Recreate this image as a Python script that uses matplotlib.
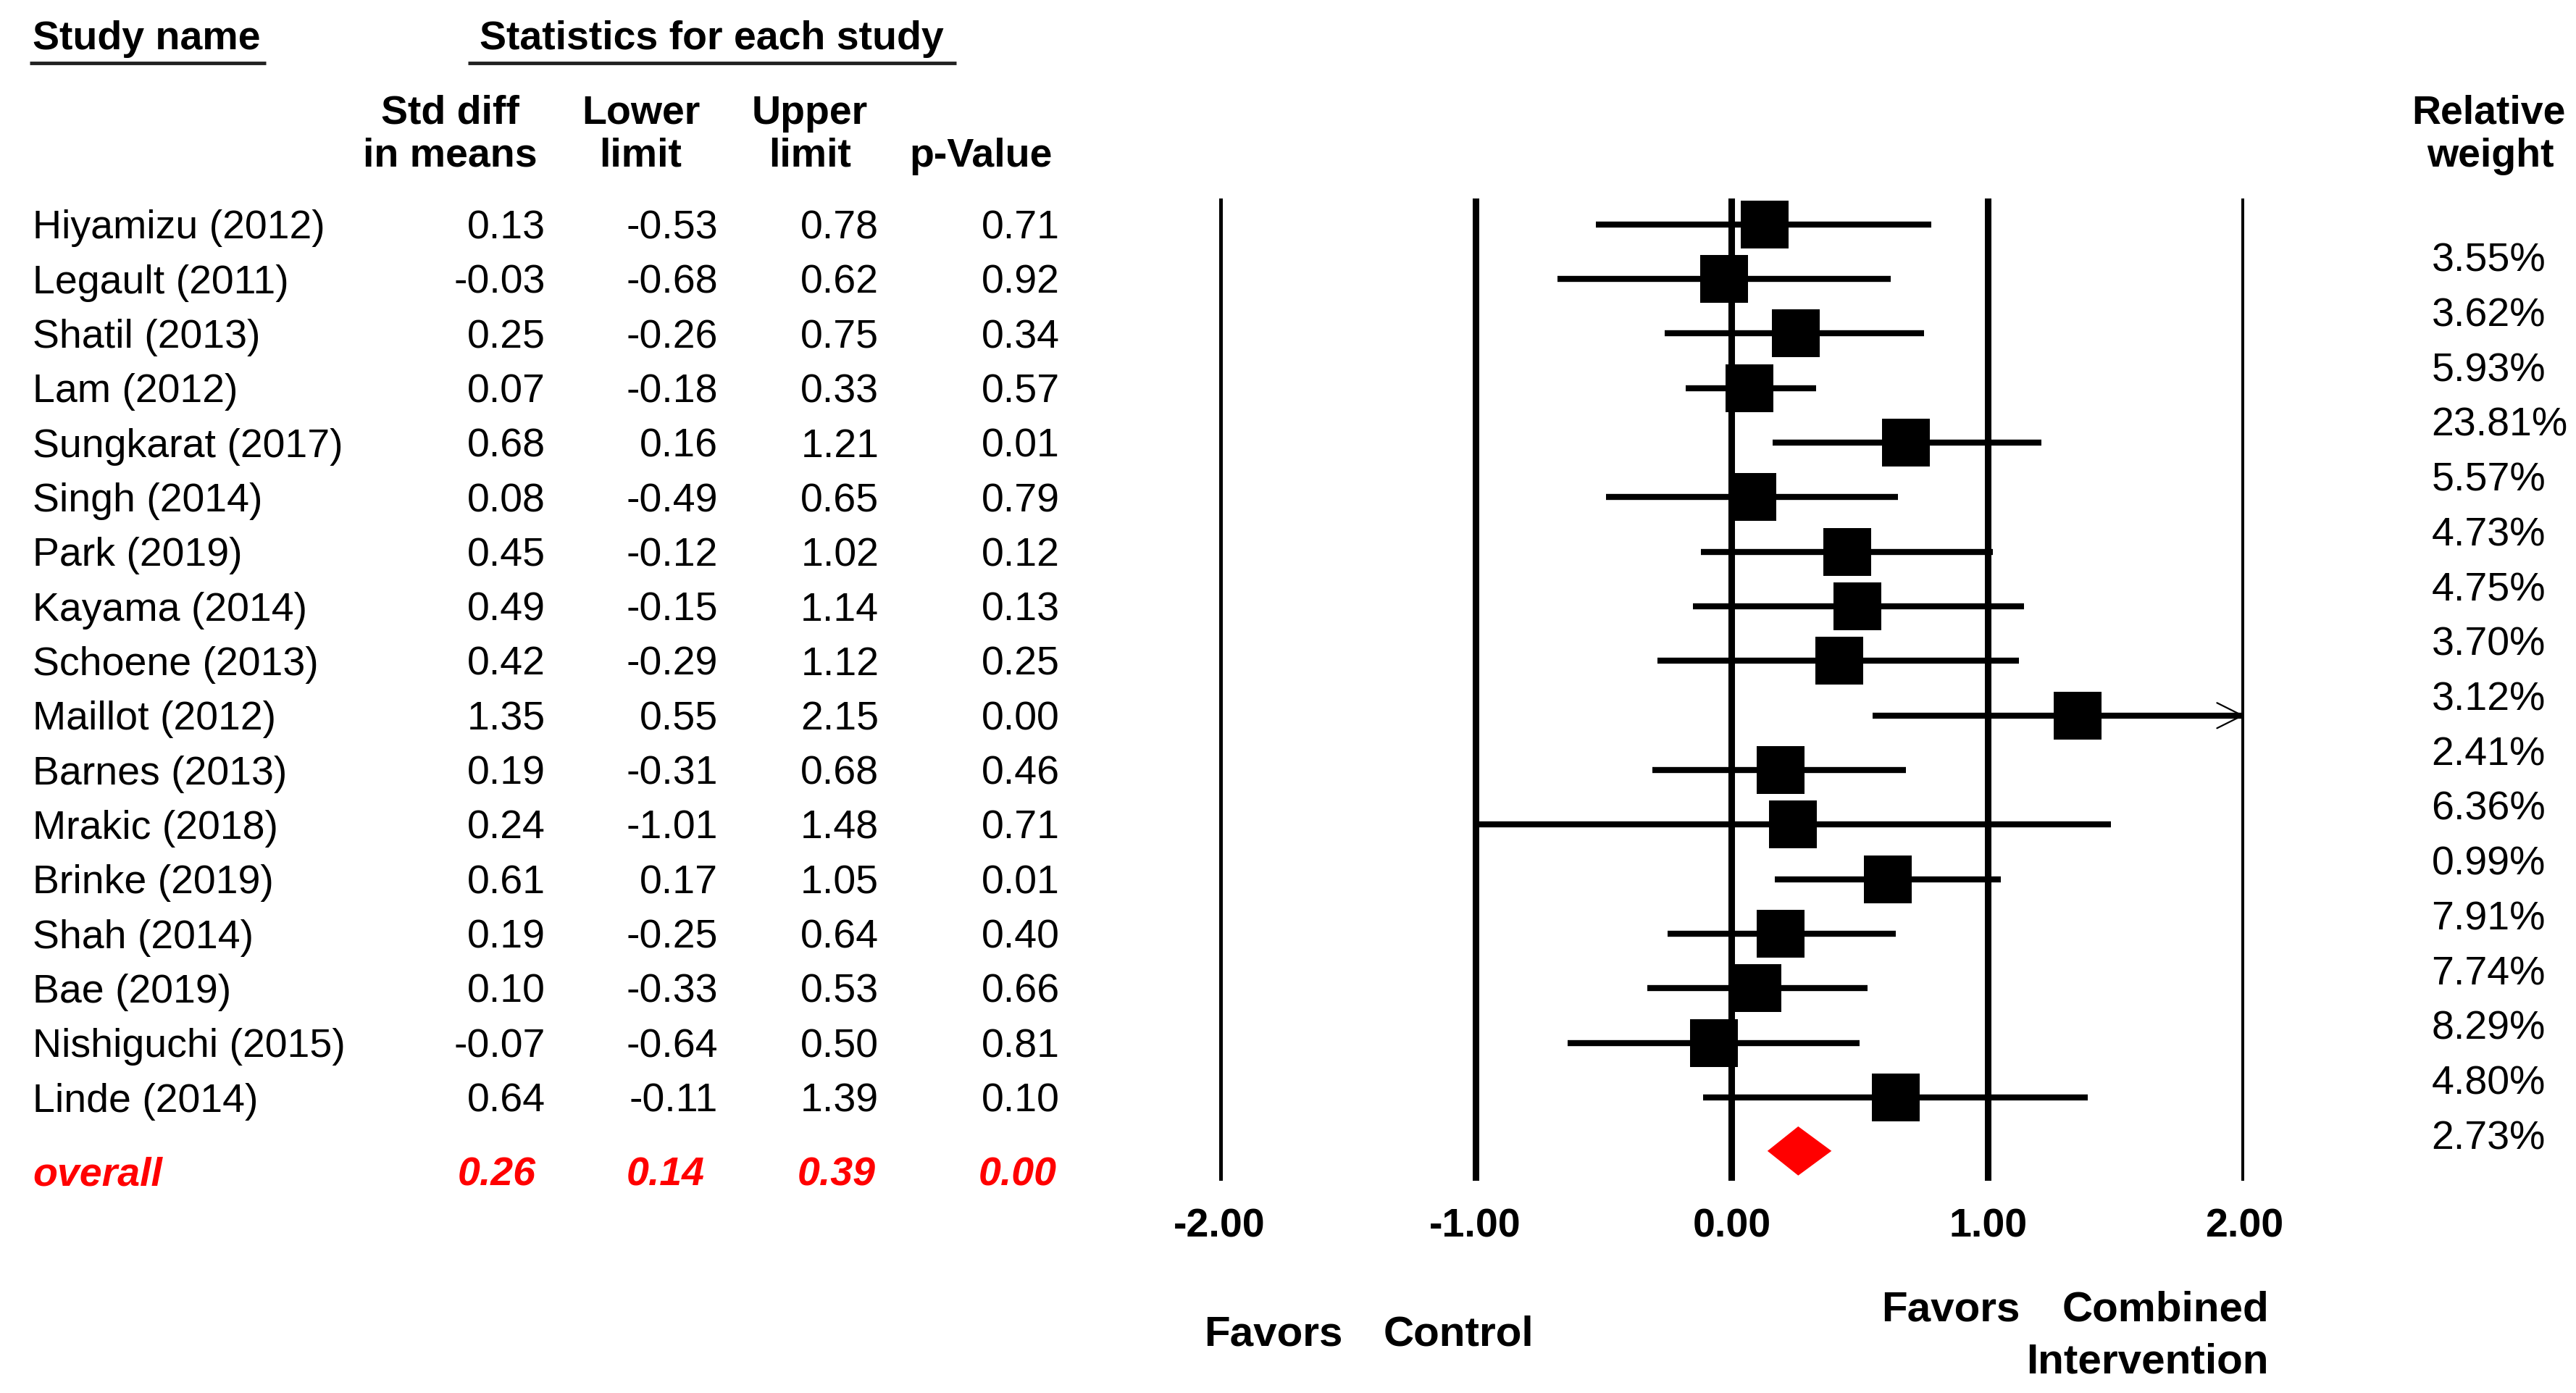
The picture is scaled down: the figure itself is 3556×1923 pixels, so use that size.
import matplotlib
matplotlib.use('Agg')
import matplotlib.pyplot as plt
from matplotlib.patches import Polygon

# ---------------- data ----------------
studies = ["Hiyamizu (2012)", "Legault (2011)", "Shatil (2013)", "Lam (2012)",
           "Sungkarat (2017)", "Singh (2014)", "Park (2019)", "Kayama (2014)",
           "Schoene (2013)", "Maillot (2012)", "Barnes (2013)", "Mrakic (2018)",
           "Brinke (2019)", "Shah (2014)", "Bae (2019)", "Nishiguchi (2015)",
           "Linde (2014)"]
smd = [0.13, -0.03, 0.25, 0.07, 0.68, 0.08, 0.45, 0.49, 0.42, 1.35, 0.19,
       0.24, 0.61, 0.19, 0.10, -0.07, 0.64]
lower = [-0.53, -0.68, -0.26, -0.18, 0.16, -0.49, -0.12, -0.15, -0.29, 0.55,
         -0.31, -1.01, 0.17, -0.25, -0.33, -0.64, -0.11]
upper = [0.78, 0.62, 0.75, 0.33, 1.21, 0.65, 1.02, 1.14, 1.12, 2.15, 0.68,
         1.48, 1.05, 0.64, 0.53, 0.50, 1.39]
pvals = [0.71, 0.92, 0.34, 0.57, 0.01, 0.79, 0.12, 0.13, 0.25, 0.00, 0.46,
         0.71, 0.01, 0.40, 0.66, 0.81, 0.10]
weights = [3.55, 3.62, 5.93, 23.81, 5.57, 4.73, 4.75, 3.70, 3.12, 2.41, 6.36,
           0.99, 7.91, 7.74, 8.29, 4.80, 2.73]
overall_label = "overall"
overall = [0.26, 0.14, 0.39, 0.00]   # estimate, lower, upper, p
xticks = [-2, -1, 0, 1, 2]
xlabels = ["-2.00", "-1.00", "0.00", "1.00", "2.00"]

# ---------------- layout (reference units: 1568 x 848) ----------------
W, H = 1568.0, 848.0
FS = 40
FAM = ['Liberation Sans', 'DejaVu Sans']
RED = '#FF0000'
ROW0, ROWH = 137.0, 33.2
DY = 2.0   # visual-centre correction for va='center'

fig = plt.figure(figsize=(35.56, 19.24), dpi=100)
fig.patch.set_facecolor('white')

# text layer
ax_t = fig.add_axes([0, 0, 1, 1])
ax_t.set_xlim(0, W)
ax_t.set_ylim(H, 0)
ax_t.axis('off')

def txt(x, y, s, ha='left', bold=False, italic=False, color='black', fs=FS):
    ax_t.text(x, y + DY, s, ha=ha, va='center', fontsize=fs, family=FAM,
              fontweight='bold' if bold else 'normal',
              fontstyle='italic' if italic else 'normal', color=color)

# headers
txt(20, 22, "Study name", bold=True)
ax_t.plot([18, 162], [39, 39], color='#222222', lw=3.5, solid_capstyle='butt')
txt(292, 22, "Statistics for each study", bold=True)
ax_t.plot([285, 582], [39, 39], color='#222222', lw=3.5, solid_capstyle='butt')

col_c = [274, 390, 493]
txt(col_c[0], 67, "Std diff", ha='center', bold=True)
txt(col_c[0], 93, "in means", ha='center', bold=True)
txt(col_c[1], 67, "Lower", ha='center', bold=True)
txt(col_c[1], 93, "limit", ha='center', bold=True)
txt(col_c[2], 67, "Upper", ha='center', bold=True)
txt(col_c[2], 93, "limit", ha='center', bold=True)
txt(597, 93, "p-Value", ha='center', bold=True)
txt(1515, 67, "Relative", ha='center', bold=True)
txt(1516, 93, "weight", ha='center', bold=True)

col_r = [332, 437, 535, 645]
for i, name in enumerate(studies):
    y = ROW0 + ROWH * i
    txt(20, y, name)
    for xr, v in zip(col_r, [smd[i], lower[i], upper[i], pvals[i]]):
        txt(xr, y, f"{v:.2f}", ha='right')

y_ov = 713
txt(20, y_ov, overall_label, bold=True, italic=True, color=RED)
for xr, v in zip([326, 429, 533, 643], overall):
    txt(xr, y_ov, f"{v:.2f}", ha='right', bold=True, italic=True, color=RED)

# relative weights (offset column as in source)
for i, w in enumerate(weights):
    txt(1480, 157 + 33.375 * i, f"{w:.2f}%")

# bottom labels
FB = 42
txt(733, 810, "Favors", bold=True, fs=FB)
txt(842, 810, "Control", bold=True, fs=FB)
txt(1145, 795, "Favors", bold=True, fs=FB)
txt(1381, 795, "Combined", ha='right', bold=True, fs=FB)
txt(1381, 827, "Intervention", ha='right', bold=True, fs=FB)

# ---------------- forest plot ----------------
y_top_px, y_bot_px = 121.0, 719.0
x_l_px, x_r_px = 742.0, 1366.0
ax = fig.add_axes([x_l_px / W, 1 - y_bot_px / H,
                   (x_r_px - x_l_px) / W, (y_bot_px - y_top_px) / H])
ax.patch.set_alpha(0)
ax.set_xlim(-2, 2)
ax.set_ylim((y_bot_px - ROW0) / ROWH, (y_top_px - ROW0) / ROWH)
for s in ax.spines.values():
    s.set_visible(False)
ax.set_yticks([])
ax.set_xticks(xticks)
ax.set_xticklabels(xlabels, fontsize=FS, fontweight='bold', family=FAM)
ax.tick_params(axis='x', length=0, pad=26)

for xt in xticks:
    ax.axvline(xt, color='black', lw=6.5, zorder=1)

LW = 6.0
for i in range(len(studies)):
    lo, hi = lower[i], upper[i]
    hi_c = min(hi, 2.0)
    ax.plot([lo, hi_c], [i, i], color='black', lw=LW, solid_capstyle='butt',
            zorder=2)
    if hi > 2.0:
        ax.annotate('', xy=(2.0, i), xytext=(1.85, i),
                    arrowprops=dict(arrowstyle='->,head_length=0.9,head_width=0.45',
                                    color='black', lw=1.6, mutation_scale=28,
                                    shrinkA=0, shrinkB=0))
    ax.plot([smd[i]], [i], marker='s', markersize=48, color='black',
            markeredgewidth=0, zorder=3)

# overall diamond
est, lo, hi = overall[0], overall[1], overall[2]
yd = len(studies) - 0.02
hh = 0.45
ax.add_patch(Polygon([[lo, yd], [est, yd - hh], [hi, yd], [est, yd + hh]],
                     closed=True, facecolor=RED, edgecolor=RED, lw=0,
                     zorder=4))

fig.savefig('out.png', dpi=100, facecolor='white')
